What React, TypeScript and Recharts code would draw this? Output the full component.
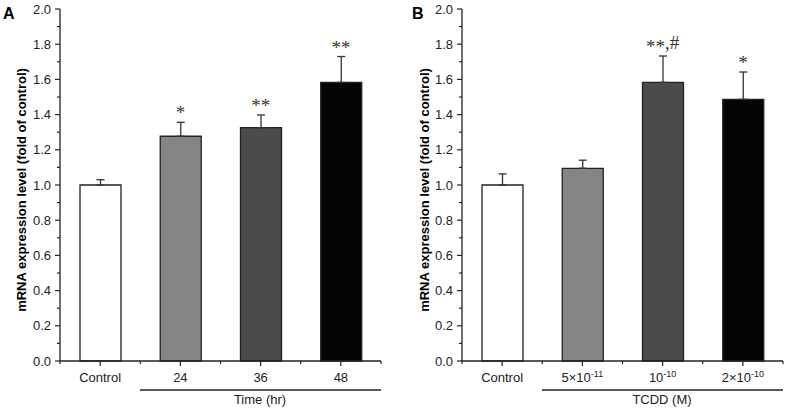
import { BarChart, Bar, Cell, XAxis, YAxis, ErrorBar, ReferenceDot } from 'recharts';

const categoriesA = ['Control', '24', '36', '48'];
const meansA = [1.0, 1.277, 1.326, 1.583];
const errorsA = [0.03, 0.079, 0.072, 0.147];
const marksA = ['', '*', '**', '**'];

const categoriesB = ['Control', '5×10^-11', '10^-10', '2×10^-10'];
const meansB = [1.0, 1.095, 1.583, 1.487];
const errorsB = [0.063, 0.046, 0.15, 0.155];
const marksB = ['', '', '**,#', '*'];

const fills = ['#ffffff', '#858585', '#4b4b4b', '#050505'];
// every 0.1 gets a tick, every 0.2 a label
const yTicks = [0, 0.1, 0.2, 0.3, 0.4, 0.5, 0.6, 0.7, 0.8, 0.9, 1.0, 1.1, 1.2, 1.3, 1.4, 1.5, 1.6, 1.7, 1.8, 1.9, 2.0];
// bars sit at half steps, minor ticks at whole steps
const xTicks = [0, 0.5, 1, 1.5, 2, 2.5, 3, 3.5, 4];

const SANS = '"Liberation Sans", Arial, sans-serif';
const SERIF = '"Liberation Serif", "Times New Roman", serif';
const INK = '#222';

// asterisks sit lower than the # in the original lettering
const Mark = ({ cx, cy, text }: { cx: number; cy: number; text: string }) => {
    const parts = text.split(/(\*+)/).filter(Boolean);
    let shift = 0;
    return (
        <text x={cx} y={cy - 7} textAnchor="middle" fontFamily={SERIF} fontSize={19} fill="#333">
            {parts.map((p, i) => {
                const target = p.startsWith('*') ? 4 : 0;
                const dy = target - shift;
                shift = target;
                return <tspan key={i} dy={dy}>{p}</tspan>;
            })}
        </text>
    );
};

const YTick = (props: any) => {
    const { x, y, payload } = props;
    const v = payload.value as number;
    const major = Math.round(v * 10) % 2 === 0;
    return (
        <g>
            <line x1={x} x2={x - (major ? 5 : 3)} y1={y} y2={y} stroke={INK} strokeWidth={1.2} />
            {major && (
                <text x={x - 9} y={y} dy="0.355em" textAnchor="end" fontFamily={SANS} fontSize={13} fill={INK}>
                    {v.toFixed(1)}
                </text>
            )}
        </g>
    );
};

const XTick = (props: any) => {
    const { x, y, payload, categories } = props;
    const v = payload.value as number;
    const major = !Number.isInteger(v);
    const label = major ? String(categories[Math.floor(v)]) : '';
    const [base, exp] = label.split('^');
    return (
        <g>
            <line x1={x} x2={x} y1={y} y2={y + (major ? 5 : 3)} stroke={INK} strokeWidth={1.2} />
            {major && (
                <text x={x} y={y + 12} dy="0.71em" textAnchor="middle" fontFamily={SANS} fontSize={13} fill={INK}>
                    <tspan>{base}</tspan>
                    {exp && <tspan dy={-5} fontSize={9}>{exp}</tspan>}
                </text>
            )}
        </g>
    );
};

interface PanelProps {
    categories: string[];
    means: number[];
    errors: number[];
    marks: string[];
    left: number;
    width: number;
    yAxisWidth: number;
    rightMargin: number;
}

const Panel = ({ categories, means, errors, marks, left, width, yAxisWidth, rightMargin }: PanelProps) => {
    const data = categories.map((c, i) => ({ name: c, pos: i + 0.5, mean: means[i], err: errors[i] }));
    return (
        <div style={{ position: 'absolute', left, top: 0 }}>
            <BarChart width={width} height={410} data={data} margin={{ top: 9, right: rightMargin, bottom: 19, left: 0 }}>
                <XAxis type="number" dataKey="pos" domain={[0, 4]} ticks={xTicks} interval={0} height={30}
                    tickSize={0} tickMargin={0} tickLine={false} tick={<XTick categories={categories} />}
                    axisLine={{ stroke: INK, strokeWidth: 1.3 }} />
                <YAxis domain={[0, 2]} ticks={yTicks} interval={0} width={yAxisWidth}
                    tickSize={0} tickMargin={0} tickLine={false} tick={<YTick />}
                    axisLine={{ stroke: INK, strokeWidth: 1.3 }} />
                <Bar dataKey="mean" barSize={41} stroke={INK} strokeWidth={1.3} isAnimationActive={false}>
                    {data.map((_d, i) => (
                        <Cell key={`cell-${i}`} fill={fills[i % fills.length]} />
                    ))}
                    <ErrorBar dataKey={(d: any) => [0, d.err]} width={4} stroke="#333" strokeWidth={1.3} direction="y" />
                </Bar>
                {data.map((d, i) => marks[i] ? (
                    <ReferenceDot key={`mark-${i}`} x={d.pos} y={d.mean + d.err} r={2}
                        shape={(p: any) => <Mark cx={p.cx} cy={p.cy} text={marks[i]} />} />
                ) : null)}
            </BarChart>
        </div>
    );
};

export default function App() {
    return (
        <div style={{ position: 'absolute', left: 0, top: 0, width: 787, height: 410, background: '#fff' }}>
            <Panel categories={categoriesA} means={meansA} errors={errorsA} marks={marksA}
                left={0} width={393} yAxisWidth={60} rightMargin={12} />
            <Panel categories={categoriesB} means={meansB} errors={errorsB} marks={marksB}
                left={400} width={387} yAxisWidth={62} rightMargin={4} />
            <svg width={787} height={410} style={{ position: 'absolute', left: 0, top: 0, pointerEvents: 'none' }}>
                <text x={3} y={19} fontFamily={SANS} fontWeight="bold" fontSize={16} fill="#000">A</text>
                <text x={412} y={19} fontFamily={SANS} fontWeight="bold" fontSize={16} fill="#000">B</text>
                <text transform="translate(26,190) rotate(-90)" textAnchor="middle" fontFamily={SANS}
                    fontWeight="bold" fontSize={13} fill="#000">mRNA expression level (fold of control)</text>
                <text transform="translate(429,190) rotate(-90)" textAnchor="middle" fontFamily={SANS}
                    fontWeight="bold" fontSize={13} fill="#000">mRNA expression level (fold of control)</text>
                <line x1={140} y1={390} x2={381} y2={390} stroke={INK} strokeWidth={1.3} />
                <line x1={542} y1={390} x2={783} y2={390} stroke={INK} strokeWidth={1.3} />
                <text x={260} y={404} textAnchor="middle" fontFamily={SANS} fontSize={13} fill={INK}>Time (hr)</text>
                <text x={662} y={404} textAnchor="middle" fontFamily={SANS} fontSize={13} fill={INK}>TCDD (M)</text>
            </svg>
        </div>
    );
}
